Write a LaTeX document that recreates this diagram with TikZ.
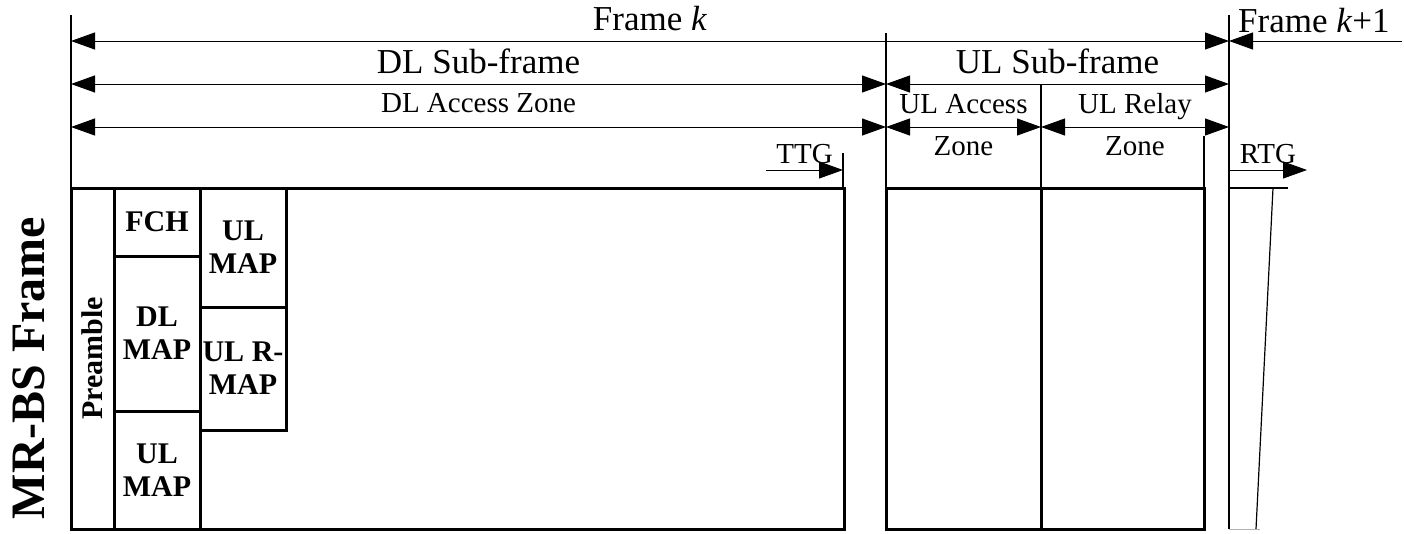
\documentclass[tikz,border=0pt]{standalone}
\usepackage{fontspec}
\setmainfont{Liberation Serif}
\usetikzlibrary{arrows.meta}

\tikzset{
  big/.style={font=\fontsize{35}{40}\selectfont, inner sep=0pt, anchor=base},
  mid/.style={font=\fontsize{29}{33}\selectfont, inner sep=0pt, anchor=base},
  blk/.style={draw, line width=3pt, outer sep=0pt, inner sep=0pt, anchor=north west},
  blktxt/.style={align=center, font=\bfseries\fontsize{30}{33}\selectfont},
  guide/.style={line width=1.3pt},
  dim/.style={line width=1pt}
}

\begin{document}
\begin{tikzpicture}[x=1pt, y=-1pt, >={Triangle[length=24pt,width=17pt]}]
  \useasboundingbox (0,0) rectangle (1404,533);

  % boundary marks
  \coordinate (lTop) at (71,15);     \coordinate (lBot) at (71,188);
  \coordinate (dTop) at (886,33);    \coordinate (dBot) at (886,188);
  \coordinate (aTop) at (1041,84);   \coordinate (aBot) at (1041,188);
  \coordinate (rTop) at (1204,136);  \coordinate (rBot) at (1204,188);
  \coordinate (fTop) at (1229,15);   \coordinate (fBot) at (1229,529);
  \coordinate (tTop) at (843,153);   \coordinate (tBot) at (843,188);
  \foreach \a/\b in {lTop/lBot, dTop/dBot, aTop/aBot, rTop/rBot, fTop/fBot, tTop/tBot}
    \draw[guide] (\a) -- (\b);

  % arrow ends
  \coordinate (k0) at (71,41);   \coordinate (k1) at (1229,41);  \coordinate (k2) at (1402,41);
  \coordinate (s0) at (71,84);   \coordinate (s1) at (886,84);   \coordinate (s2) at (1229,84);
  \coordinate (z0) at (71,127);  \coordinate (z1) at (886,127);  \coordinate (z2) at (1041,127);
  \coordinate (z3) at (1229,127);
  \coordinate (g0) at (766,170); \coordinate (g1) at (843,170);
  \coordinate (g2) at (1229,170); \coordinate (g3) at (1307,170);

  \draw[dim, <->] (k0) -- node[big, yshift=11pt] (frm) {Frame \textit{k}} (k1);
  \draw[dim, <-] (k1) -- (k2);
  \node[big, anchor=base west] (frmnext) at (1238,32) {Frame \textit{k}+1};
  \draw[dim, <->] (s0) -- node[big, yshift=11pt] (dlsub) {DL Sub-frame} (s1);
  \draw[dim, <->] (s1) -- node[big, yshift=11pt] (ulsub) {UL Sub-frame} (s2);
  \draw[dim, <->] (z0) -- node[mid, yshift=15pt] (dlacc) {DL Access Zone} (z1);
  \draw[dim, <->] (z1) -- node[mid, yshift=14pt] (ulacc) {UL Access}
      node[mid, yshift=-28pt] (ulaccz) {Zone} (z2);
  \draw[dim, <->] (z2) -- node[mid, yshift=14pt] (ulrel) {UL Relay}
      node[mid, yshift=-28pt] (ulrelz) {Zone} (z3);
  \draw[dim, ->] (g0) -- node[mid, yshift=7pt] (ttg) {TTG} (g1);
  \draw[dim, ->] (g2) -- node[mid, yshift=7pt] (rtg) {RTG} (g3);

  % frame blocks
  \node[blk, minimum width=773pt, minimum height=341pt] (dl) at (71,188) {};
  \node[blk, minimum width=155pt, minimum height=341pt] (ulacc box) at (886,188) {};
  \node[blk, minimum width=163pt, minimum height=341pt] (ulrel box) at (1041,188) {};

  \node[blk, minimum width=43pt, minimum height=341pt] (pre) at (71,188) {};
  \node[blktxt, rotate=90] (pretxt) at (pre.center) {Preamble};
  \node[blk, blktxt, minimum width=86pt, minimum height=68pt] (fch) at (114,188) {FCH};
  \node[blk, blktxt, minimum width=86pt, minimum height=155pt] (dlmap) at (114,256) {DL\\MAP};
  \node[blk, blktxt, minimum width=86pt, minimum height=118pt] (ulmapb) at (114,411) {UL\\MAP};
  \node[blk, blktxt, minimum width=86pt, minimum height=119pt] (ulmapa) at (200,188) {UL\\MAP};
  \node[blk, blktxt, minimum width=86pt, minimum height=123pt] (ulrmap) at (200,307) {UL R-\\MAP};

  % RTG gap
  \coordinate (gapA) at (1288,188); \coordinate (gapB) at (1229,188);
  \coordinate (gapC) at (1273,188); \coordinate (gapD) at (1256,529);
  \coordinate (gapE) at (1260,529);
  \draw[line width=1.5pt] (gapB) -- (gapA);
  \draw[line width=1.2pt] (gapC) -- (gapD);
  \draw[line width=1pt, black!30] (fBot) -- (gapE);

  \node[rotate=90, font=\bfseries\fontsize{48}{52}\selectfont] (mrbs) at (29,368) {MR-BS Frame};
\end{tikzpicture}
\end{document}
